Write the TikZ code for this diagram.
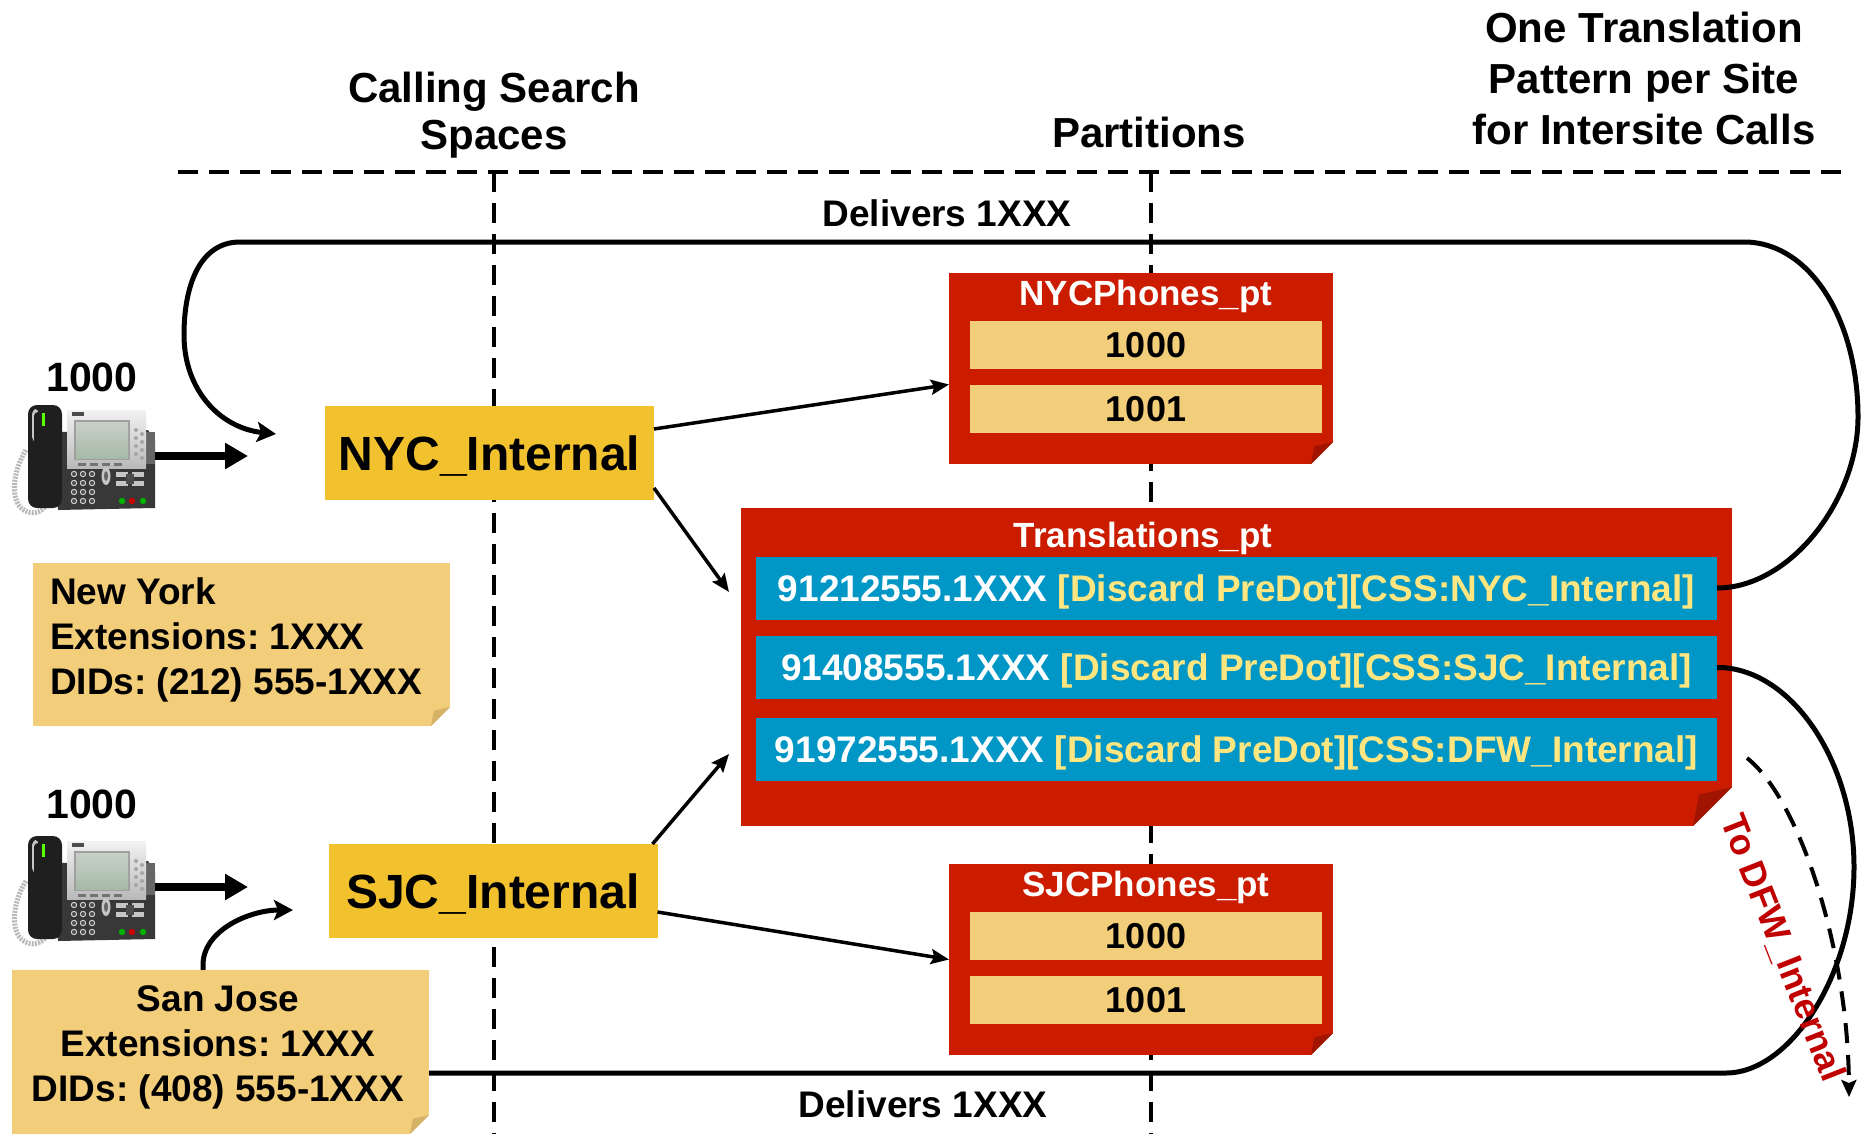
\documentclass[tikz,border=0pt]{standalone}
\usepackage{fontspec}
\setmainfont{Liberation Sans}
\usetikzlibrary{arrows.meta,calc}
\pgfdeclarelayer{background}
\pgfsetlayers{background,main}
\frenchspacing

\definecolor{ptred}{RGB}{204,28,0}
\definecolor{ptfold}{RGB}{160,20,0}
\definecolor{rowtan}{RGB}{242,205,122}
\definecolor{notefold}{RGB}{212,178,104}
\definecolor{cssgold}{RGB}{242,193,46}
\definecolor{rowblue}{RGB}{0,150,198}
\definecolor{hiyellow}{RGB}{255,230,128}
\definecolor{dfwred}{RGB}{192,0,0}

\newcommand\fsz[2]{\fontsize{#1}{#2}\selectfont}

\tikzset{
  every node/.style={inner sep=0pt, outer sep=0pt},
  foldcorner/.style n args={2}{path picture={
    \fill[white] ([xshift=-#1]path picture bounding box.south east) -- (path picture bounding box.south east)
       -- ([yshift=#1]path picture bounding box.south east) -- cycle;
    \fill[#2] ([xshift=-#1]path picture bounding box.south east) -- ([yshift=#1]path picture bounding box.south east)
       -- ([xshift=-0.85*#1,yshift=0.8*#1]path picture bounding box.south east) -- cycle;}},
  hdr/.style={font=\bfseries\fsz{42}{47}, align=center},
  lbl/.style={font=\bfseries\fsz{37}{44}},
  numlbl/.style={font=\bfseries\fsz{41}{48}},
  cssbox/.style={fill=cssgold, minimum width=329pt, minimum height=94pt, text depth=0pt, font=\bfseries\fsz{48}{56}},
  ptbox/.style={fill=ptred},
  pttitle/.style={font=\bfseries\fsz{35}{40}, text=white},
  ptrow/.style={fill=rowtan, minimum width=352pt, minimum height=48pt, font=\bfseries\fsz{36}{40}},
  trrow/.style={fill=rowblue, minimum width=961pt, minimum height=63pt, text depth=0pt,
    font=\bfseries\fsz{37}{44}, text=white},
  sitenote/.style={fill=rowtan, foldcorner={19pt}{notefold}, minimum width=417pt, minimum height=164pt},
  notetext/.style={font=\bfseries\fsz{37}{45}},
  phonebox/.style={minimum width=143pt, minimum height=108pt},
  divider/.style={line width=3.5pt, dash pattern=on 20pt off 11pt},
  loopline/.style={line width=5pt, -{Stealth[length=19pt,width=20pt,inset=4pt]}},
  thinarrow/.style={line width=3.5pt, -{Stealth[length=18pt,width=15pt,inset=3pt]}},
  fatarrow/.style={line width=8pt, -{Triangle[length=23pt,width=25pt]}},
  dfwarrow/.style={line width=4pt, dash pattern=on 20pt off 12pt, -{Stealth[length=17pt,width=15pt,inset=3pt]}},
  ipphone/.pic={
    % coiled handset cord
    \draw[line width=5pt, gray!55, dash pattern=on 2pt off 1.2pt]
      (14,48) .. controls (0,70) and (-2,100) .. (12,108) .. controls (20,113) and (28,111) .. (34,104);
    % dark base
    \fill[black!78] (44,30) -- (136,28) -- (143,38) -- (143,106) -- (46,108) -- cycle;
    \fill[black!60] (134,30) rectangle (143,62);
    % silver upper panel
    \shade[top color=gray!10, bottom color=gray!55] (55,8) rectangle (134,66);
    % display
    \fill[gray!75] (62,18) rectangle (118,58);
    \shade[top color=green!8!gray!40, bottom color=green!12!gray!62] (64,20) rectangle (116,56);
    \fill[black!70] (60,10) rectangle (72,14);
    % line keys beside the display
    \foreach \yy in {28,36,44,52} { \fill[gray!70] (124,\yy) circle (2pt); \fill[gray!70] (130,\yy+4) circle (2pt); }
    % soft keys
    \foreach \xx in {70,82,94,106} { \fill[black!55] (\xx-4,61) rectangle (\xx+4,64); }
    % keypad
    \foreach \xx in {62,71,80} \foreach \yy in {72,81,90,99} {
      \fill[gray!35] (\xx,\yy) circle (3.2pt); \fill[black!70] (\xx,\yy) circle (2pt); }
    % navigation key
    \fill[gray!45] (94,74) ellipse (4.5pt and 9pt);
    \fill[black!60] (94,74) ellipse (2pt and 5pt);
    % function keys
    \fill[gray!45] (104,70) rectangle (116,75);
    \fill[gray!45] (120,70) rectangle (132,75);
    \fill[gray!45] (104,79) rectangle (116,84);
    \fill[gray!45] (120,79) rectangle (132,84);
    \fill[black!70] (114,72) rectangle (122,82);
    % status lamps
    \fill[green!70!black] (110,99) circle (3.2pt);
    \fill[red!80!black] (120,99) circle (3.2pt);
    \fill[green!70!black] (131,99) circle (3.2pt);
    % handset
    \fill[black!88, rounded corners=9pt] (16,3) rectangle (50,106);
    \fill[gray!45, rounded corners=5pt] (20,7) rectangle (27,40);
    \fill[black!88, rounded corners=4pt] (22,10) rectangle (30,60);
    \fill[green!65!yellow] (30,11) rectangle (32.5,24);
  }
}

\begin{document}
\begin{tikzpicture}[x=1pt,y=-1pt]
\useasboundingbox (0,0) rectangle (1867,1134);

% column headings
\node[hdr, anchor=north] (csshead) at (494,72) {Calling Search\\Spaces};
\node[hdr, anchor=base] (pthead) at (1149,148) {Partitions};
\node[hdr, anchor=north, font=\bfseries\fsz{42}{51}] (tphead) at (1644,12) {One Translation\\Pattern per Site\\for Intersite Calls};

% dashed dividers
\coordinate (hl) at (178,172);
\coordinate (hr) at (1846,172);
\coordinate (v1t) at (494,172);
\coordinate (v1b) at (494,1134);
\coordinate (v2t) at (1151,172);
\coordinate (v2b) at (1151,1134);
\begin{pgfonlayer}{background}
  \draw[divider] (hl) -- (hr);
  \draw[divider] (v1t) -- (v1b);
  \draw[divider] (v2t) -- (v2b);
\end{pgfonlayer}

% partition NYCPhones_pt
\node[ptbox, foldcorner={22pt}{ptfold}, minimum width=384pt, minimum height=191pt] (nycpt) at (1141,368.5) {};
\node[pttitle, anchor=base] (nycpttitle) at (1146,305) {NYCPhones\_pt};
\node[ptrow] (nycp1) at (1146,345) {1000};
\node[ptrow] (nycp2) at (1146,409) {1001};

% partition SJCPhones_pt
\node[ptbox, foldcorner={22pt}{ptfold}, minimum width=384pt, minimum height=191pt] (sjcpt) at (1141,959.5) {};
\node[pttitle, anchor=base] (sjcpttitle) at (1146,896) {SJCPhones\_pt};
\node[ptrow] (sjcp1) at (1146,936) {1000};
\node[ptrow] (sjcp2) at (1146,1000) {1001};

% partition Translations_pt
\node[ptbox, foldcorner={39pt}{ptfold}, minimum width=991pt, minimum height=318pt] (trans) at (1236.5,667) {};
\node[pttitle, anchor=base] (transtitle) at (1143,547) {Translations\_pt};
\node[trrow] (tr1) at (1236.5,588) {91212555.1XXX \textcolor{hiyellow}{[Discard PreDot][CSS:NYC\_Internal]}};
\node[trrow] (tr2) at (1236.5,667.5) {91408555.1XXX \textcolor{hiyellow}{[Discard PreDot][CSS:SJC\_Internal]}};
\node[trrow] (tr3) at (1236.5,749) {91972555.1XXX \textcolor{hiyellow}{[Discard PreDot][CSS:DFW\_Internal]}};

% calling search spaces
\node[cssbox] (nycint) at (489.5,453) {NYC\_Internal};
\node[cssbox] (sjcint) at (493,891) {SJC\_Internal};

% New York site note
\node[sitenote, minimum height=163pt] (nynote) at (241.5,644.5) {};
\node[notetext, align=left, anchor=west] (nytext) at (50,639.5)
  {New York\\Extensions: 1XXX\\DIDs: (212) 555-1XXX};

% phones
\node[phonebox] (nycphone) at (83.5,456) {};
\pic at (12,402) {ipphone};
\node[numlbl] (nycnum) at (92,377) {1000};
\node[phonebox] (sjcphone) at (83.5,887) {};
\pic at (12,833) {ipphone};
\node[numlbl] (sjcnum) at (92,804) {1000};

\coordinate (nycphonetip) at (248,456);
\coordinate (sjcphonetip) at (248,887);
\draw[fatarrow] (nycphone.east) -- (nycphonetip);
\draw[fatarrow] (sjcphone.east) -- (sjcphonetip);

% delivery loops back to the calling search spaces
\coordinate (nyctip) at (276,434);
\coordinate (sjctip) at (293,910);
\draw[loopline] (tr1.east) .. controls (1790,588) and (1858,500) .. (1858,417)
   .. controls (1858,320) and (1810,242) .. (1744,242) -- (240,242)
   .. controls (200,242) and (184,285) .. (184,335)
   .. controls (184,390) and (220,428) .. (nyctip);
\draw[loopline] (tr2.east) .. controls (1790,667) and (1854,760) .. (1854,867)
   .. controls (1854,975) and (1790,1073) .. (1726,1073) -- (240,1073)
   .. controls (215,1073) and (203,1000) .. (203,965)
   .. controls (203,930) and (250,910) .. (sjctip);

\node[lbl, anchor=base] (deltop) at (947,226) {Delivers 1XXX};
\node[lbl, anchor=base] (delbot) at (923,1117) {Delivers 1XXX};

% San Jose site note
\node[sitenote] (sjnote) at (220.5,1052) {};
\node[notetext, align=center] (sjtext) at (218,1047)
  {San Jose\\Extensions: 1XXX\\DIDs: (408) 555-1XXX};

% CSS to partition arrows
\draw[thinarrow] ([yshift=24pt]nycint.east) -- ([yshift=-16pt]nycpt.west);
\draw[thinarrow] ([yshift=-35pt]nycint.east) -- ([xshift=-12pt,yshift=75pt]trans.west);
\draw[thinarrow] ([xshift=-5pt]sjcint.north east) -- ([xshift=-12pt,yshift=-87pt]trans.west);
\draw[thinarrow] ([yshift=-21pt]sjcint.east) -- (sjcpt.west);

% intersite call towards DFW
\coordinate (dfwstart) at (1747,758);
\coordinate (dfwend) at (1849,1097);
\draw[dfwarrow] (dfwstart) .. controls (1800,800) and (1848,950) .. (dfwend);
\node[font=\bfseries\fsz{36}{40}, text=dfwred, rotate=-68.5] (dfwlbl) at (1782,948) {To DFW\_Internal};

\end{tikzpicture}
\end{document}
